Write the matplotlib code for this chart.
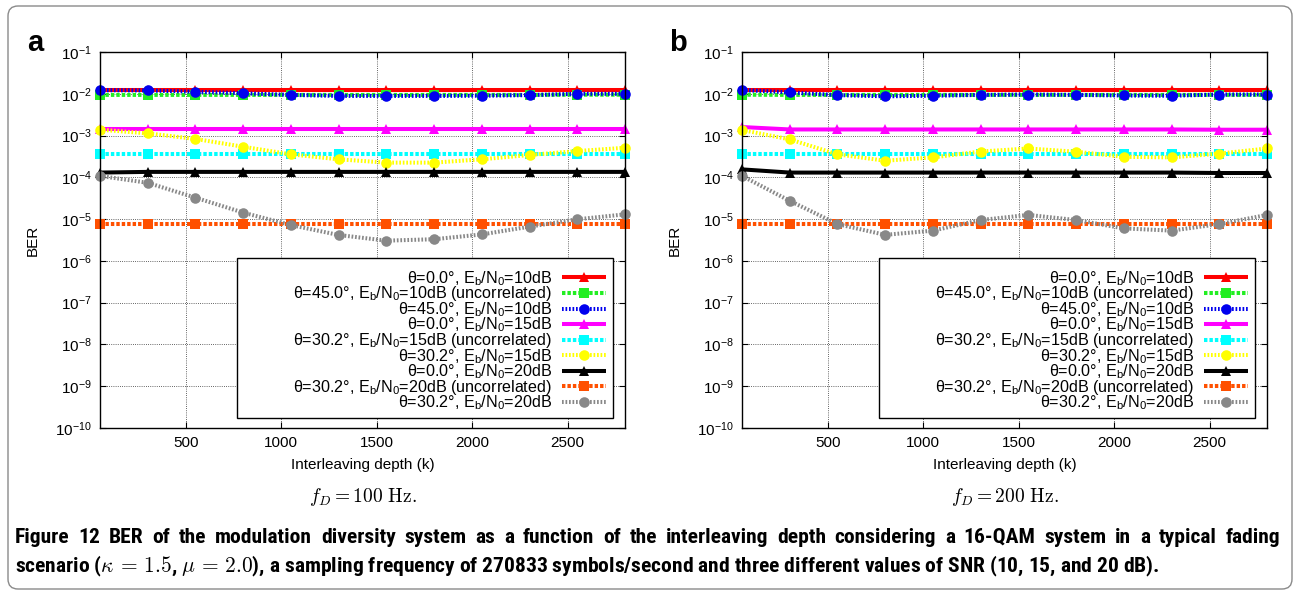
import matplotlib
matplotlib.use("Agg")
import matplotlib.pyplot as plt
from matplotlib import font_manager as fm
from matplotlib.patches import FancyBboxPatch, Rectangle
from matplotlib.transforms import IdentityTransform
from matplotlib.ticker import LogLocator, FixedLocator, NullLocator

W, H, DPI = 1294, 591, 100

# ---------------------------------------------------------------- data
depth = [50, 300, 550, 800, 1050, 1300, 1550, 1800, 2050, 2300, 2550, 2800]
x_ticks = [500, 1000, 1500, 2000, 2500]

series_labels = [
    r"θ=0.0°, $\mathregular{E_b/N_0}$=10dB",
    r"θ=45.0°, $\mathregular{E_b/N_0}$=10dB (uncorrelated)",
    r"θ=45.0°, $\mathregular{E_b/N_0}$=10dB",
    r"θ=0.0°, $\mathregular{E_b/N_0}$=15dB",
    r"θ=30.2°, $\mathregular{E_b/N_0}$=15dB (uncorrelated)",
    r"θ=30.2°, $\mathregular{E_b/N_0}$=15dB",
    r"θ=0.0°, $\mathregular{E_b/N_0}$=20dB",
    r"θ=30.2°, $\mathregular{E_b/N_0}$=20dB (uncorrelated)",
    r"θ=30.2°, $\mathregular{E_b/N_0}$=20dB",
]

# panel a: f_D = 100 Hz
a_t00_10 = [1.25e-2, 1.25e-2, 1.25e-2, 1.25e-2, 1.25e-2, 1.25e-2, 1.25e-2, 1.25e-2, 1.25e-2, 1.25e-2, 1.25e-2, 1.25e-2]
a_t45_10_unc = [9.4e-3, 9.4e-3, 9.4e-3, 9.4e-3, 9.4e-3, 9.4e-3, 9.4e-3, 9.4e-3, 9.4e-3, 9.4e-3, 9.5e-3, 9.5e-3]
a_t45_10 = [1.22e-2, 1.2e-2, 1.12e-2, 1.03e-2, 9.4e-3, 8.9e-3, 8.9e-3, 8.9e-3, 9.0e-3, 9.3e-3, 1.0e-2, 1.0e-2]
a_t00_15 = [1.4e-3, 1.4e-3, 1.4e-3, 1.4e-3, 1.4e-3, 1.4e-3, 1.4e-3, 1.4e-3, 1.4e-3, 1.4e-3, 1.4e-3, 1.4e-3]
a_t30_15_unc = [3.6e-4, 3.6e-4, 3.6e-4, 3.6e-4, 3.6e-4, 3.6e-4, 3.6e-4, 3.6e-4, 3.6e-4, 3.6e-4, 3.6e-4, 3.6e-4]
a_t30_15 = [1.38e-3, 1.13e-3, 8.3e-4, 5.4e-4, 3.55e-4, 2.7e-4, 2.25e-4, 2.25e-4, 2.7e-4, 3.43e-4, 4.26e-4, 5.1e-4]
a_t00_20 = [1.3e-4, 1.35e-4, 1.35e-4, 1.35e-4, 1.35e-4, 1.35e-4, 1.35e-4, 1.35e-4, 1.35e-4, 1.35e-4, 1.35e-4, 1.35e-4]
a_t30_20_unc = [7.5e-6, 7.5e-6, 7.5e-6, 7.5e-6, 7.5e-6, 7.5e-6, 7.5e-6, 7.5e-6, 7.5e-6, 7.5e-6, 7.5e-6, 7.5e-6]
a_t30_20 = [1.08e-4, 7.4e-5, 3.26e-5, 1.43e-5, 7.2e-6, 4.17e-6, 3.05e-6, 3.3e-6, 4.3e-6, 6.6e-6, 9.9e-6, 1.3e-5]

# panel b: f_D = 200 Hz
b_t00_10 = [1.25e-2, 1.25e-2, 1.25e-2, 1.25e-2, 1.25e-2, 1.25e-2, 1.25e-2, 1.25e-2, 1.25e-2, 1.25e-2, 1.25e-2, 1.25e-2]
b_t45_10_unc = [9.5e-3, 9.4e-3, 9.4e-3, 9.4e-3, 9.4e-3, 9.4e-3, 9.4e-3, 9.4e-3, 9.4e-3, 9.4e-3, 9.4e-3, 9.4e-3]
b_t45_10 = [1.23e-2, 1.08e-2, 9.3e-3, 8.7e-3, 9.0e-3, 9.4e-3, 9.6e-3, 9.4e-3, 9.1e-3, 9.0e-3, 9.6e-3, 9.6e-3]
b_t00_15 = [1.6e-3, 1.4e-3, 1.4e-3, 1.4e-3, 1.4e-3, 1.4e-3, 1.4e-3, 1.4e-3, 1.4e-3, 1.4e-3, 1.38e-3, 1.38e-3]
b_t30_15_unc = [3.6e-4, 3.6e-4, 3.6e-4, 3.6e-4, 3.6e-4, 3.6e-4, 3.6e-4, 3.6e-4, 3.6e-4, 3.6e-4, 3.6e-4, 3.6e-4]
b_t30_15 = [1.36e-3, 8.1e-4, 3.55e-4, 2.5e-4, 3.0e-4, 4.15e-4, 4.9e-4, 4.1e-4, 3.1e-4, 3.0e-4, 3.7e-4, 4.9e-4]
b_t00_20 = [1.55e-4, 1.3e-4, 1.3e-4, 1.3e-4, 1.3e-4, 1.3e-4, 1.3e-4, 1.3e-4, 1.3e-4, 1.3e-4, 1.27e-4, 1.27e-4]
b_t30_20_unc = [7.5e-6, 7.5e-6, 7.5e-6, 7.5e-6, 7.5e-6, 7.5e-6, 7.5e-6, 7.5e-6, 7.5e-6, 7.5e-6, 7.5e-6, 7.5e-6]
b_t30_20 = [1.08e-4, 2.74e-5, 7.6e-6, 4.2e-6, 5.3e-6, 9.5e-6, 1.26e-5, 9.5e-6, 6.0e-6, 5.3e-6, 7.6e-6, 1.26e-5]

panel_a = [a_t00_10, a_t45_10_unc, a_t45_10, a_t00_15, a_t30_15_unc,
           a_t30_15, a_t00_20, a_t30_20_unc, a_t30_20]
panel_b = [b_t00_10, b_t45_10_unc, b_t45_10, b_t00_15, b_t30_15_unc,
           b_t30_15, b_t00_20, b_t30_20_unc, b_t30_20]

# ---------------------------------------------------------------- styles
FINE = (0, (0.42, 0.45))
BLOCK = (0, (0.85, 0.5))
styles = [
    dict(color="#ff0000", ls="-", marker="^"),
    dict(color="#22ee22", ls=BLOCK, marker="s"),
    dict(color="#0000ee", ls=FINE, marker="o"),
    dict(color="#ff00ff", ls="-", marker="^"),
    dict(color="#00ffff", ls=BLOCK, marker="s"),
    dict(color="#ffff00", ls=FINE, marker="o"),
    dict(color="#000000", ls="-", marker="^"),
    dict(color="#ff5000", ls=BLOCK, marker="s"),
    dict(color="#888888", ls=FINE, marker="o"),
]

plt.rcParams["font.family"] = ["Liberation Sans", "DejaVu Sans"]
plt.rcParams["mathtext.fontset"] = "dejavusans"

fig = plt.figure(figsize=(W / DPI, H / DPI), dpi=DPI)
fig.patch.set_facecolor("white")


def px_rect(x0, y0, x1, y1):
    """Figure-fraction rectangle from top-left pixel coordinates."""
    return [x0 / W, 1 - y1 / H, (x1 - x0) / W, (y1 - y0) / H]


def draw_panel(ax, data):
    handles = []
    for vals, st, lab in zip(data, styles, series_labels):
        ln, = ax.plot(depth, vals, color=st["color"], linestyle=st["ls"],
                      linewidth=2.9, marker=st["marker"], markersize=7.6,
                      markeredgewidth=0, label=lab, clip_on=False,
                      solid_capstyle="butt", dash_capstyle="butt")
        handles.append(ln)
    ax.set_yscale("log")
    ax.set_ylim(1e-10, 1e-1)
    ax.set_xlim(depth[0], depth[-1])
    ax.xaxis.set_major_locator(FixedLocator(x_ticks))
    ax.yaxis.set_major_locator(LogLocator(base=10, numticks=20))
    ax.yaxis.set_minor_locator(NullLocator())
    ax.tick_params(direction="in", top=True, right=True, length=4.5,
                   width=0.8, labelsize=11)
    ax.tick_params(axis="x", pad=6)
    ax.tick_params(axis="y", pad=6)
    ax.grid(True, which="major", color="#333333", linewidth=0.6,
            linestyle=(0, (1, 1.6)))
    ax.set_axisbelow(True)
    for sp in ax.spines.values():
        sp.set_linewidth(1.0)
        sp.set_zorder(5)

    leg = ax.legend(handles=handles, loc="upper right", markerfirst=False,
                    frameon=False, fontsize=11.6, handlelength=2.75,
                    handletextpad=0.62, labelspacing=-0.2, borderpad=0,
                    borderaxespad=0,
                    bbox_to_anchor=((606 - 100) / 525, (428 - 269) / 376))
    leg.set_zorder(6)
    box = Rectangle(((237 - 100) / 525, (428 - 418) / 376),
                    (613 - 237) / 525, (418 - 258) / 376,
                    transform=ax.transAxes, facecolor="white",
                    edgecolor="black", linewidth=1.0, zorder=5.5)
    ax.add_patch(box)


axes_px = [(100, 52, 625, 428), (742, 52, 1267, 428)]
for (x0, y0, x1, y1), data, tag, fd in zip(axes_px, [panel_a, panel_b],
                                            ["a", "b"], ["100", "200"]):
    ax = fig.add_axes(px_rect(x0, y0, x1, y1))
    draw_panel(ax, data)
    cx = (x0 + x1) / 2
    fig.text((x0 - 67) / W, 1 - 240 / H, "BER", rotation=90, ha="center",
             va="center", fontsize=11)
    fig.text(cx / W, 1 - 465 / H, "Interleaving depth (k)", ha="center",
             va="center", fontsize=11)
    fig.text(cx / W, 1 - 497 / H, r"$f_D = %s\ \mathrm{Hz.}$" % fd,
             ha="center", va="center", fontsize=14, math_fontfamily="cm")
    fig.text((x0 - 73) / W, 1 - 51 / H, tag, ha="left", va="baseline",
             fontsize=21, fontweight="bold")

# ---------------------------------------------------------------- caption
available = {f.name for f in fm.fontManager.ttflist}
cap_family = "DejaVu Sans"
for cand in ["Liberation Sans Narrow", "Roboto Condensed", "Open Sans Condensed",
             "DejaVu Sans Condensed", "Noto Sans Condensed", "Roboto", "Lato"]:
    if cand in available:
        cap_family = cand
        break

line1 = ("Figure 12 BER of the modulation diversity system as a function of the "
         "interleaving depth considering a 16-QAM system in a typical fading")
line2 = (r"scenario ($\kappa\,=\,1.5$, $\mu\,=\,2.0$), a sampling frequency of 270833 "
         r"symbols/second and three different values of SNR (10, 15, and 20 dB).")

renderer = fig.canvas.get_renderer()
CAP_X0, CAP_X1, LINE2_END = 15, 1280, 1160

# last line: natural width sets the font size
t2 = fig.text(CAP_X0 / W, 1 - 572 / H, line2, ha="left", va="baseline",
              fontsize=14, fontweight="bold", family=cap_family,
              math_fontfamily="cm")
fs = 14 * (LINE2_END - CAP_X0) / t2.get_window_extent(renderer).width
t2.set_fontsize(fs)

# first line: justified to the full caption width
words = line1.split(" ")
wtexts = [fig.text(0, 1 - 543 / H, w, ha="left", va="baseline", fontsize=fs,
                   fontweight="bold", family=cap_family) for w in words]
widths = [t.get_window_extent(renderer).width for t in wtexts]
gap = (CAP_X1 - CAP_X0 - sum(widths)) / (len(words) - 1)
xpos = CAP_X0
for t, wd in zip(wtexts, widths):
    t.set_x(xpos / W)
    xpos += wd + gap

# rounded frame around the whole figure
frame = FancyBboxPatch((8, H - 589), 1284, 583,
                       boxstyle="round,pad=0,rounding_size=10",
                       transform=IdentityTransform(), facecolor="none",
                       edgecolor="#8a8a8a", linewidth=1.0)
fig.add_artist(frame)

fig.savefig("out.png", dpi=DPI)
